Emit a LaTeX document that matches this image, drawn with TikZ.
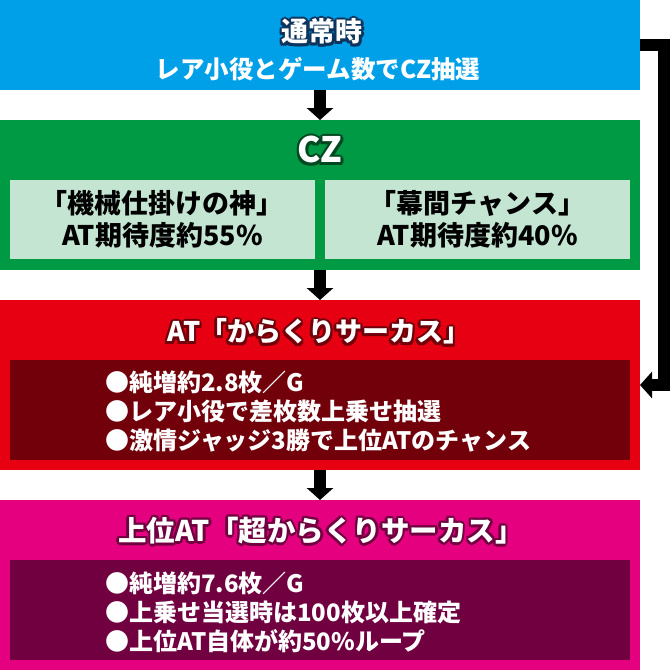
\documentclass[tikz,border=0pt]{standalone}
\usepackage{fontspec}
\setmainfont{Noto Sans CJK JP}
\usetikzlibrary{arrows.meta}
\definecolor{normalblue}{RGB}{0,160,233}
\definecolor{normalnavy}{RGB}{12,52,92}
\definecolor{czgreen}{RGB}{0,153,68}
\definecolor{czdark}{RGB}{0,72,32}
\definecolor{czlight}{RGB}{196,229,210}
\definecolor{atred}{RGB}{230,0,18}
\definecolor{atdark}{RGB}{114,0,10}
\definecolor{supmag}{RGB}{228,0,127}
\definecolor{supdark}{RGB}{112,0,64}
% white title letters with a dark rim
\newcommand\rimcopy[3]{\rlap{\kern#1\raisebox{#2}{#3}}}
\newcommand\rimtext[2]{{\color{#1}%
  \rimcopy{-2.5pt}{-.5pt}{#2}\rimcopy{2.5pt}{-.5pt}{#2}%
  \rimcopy{0pt}{2.3pt}{#2}\rimcopy{0pt}{-3pt}{#2}%
  \rimcopy{-1.8pt}{1.6pt}{#2}\rimcopy{1.8pt}{1.6pt}{#2}%
  \rimcopy{-1.9pt}{-2.4pt}{#2}\rimcopy{1.9pt}{-2.4pt}{#2}}#2}

\begin{document}
\begin{tikzpicture}[x=1pt,y=-1pt,
  panel/.style={inner sep=0,outer sep=0,anchor=north west,minimum width=640pt},
  sub/.style={inner sep=0,outer sep=0,anchor=north west},
  ttl/.style={inner sep=0,text=white,font=\fontsize{27}{30}\selectfont\bfseries},
  pick/.style={inner sep=0,align=center,font=\fontsize{27}{32}\selectfont\bfseries},
  list/.style={inner sep=0,anchor=west,align=left,text=white,font=\fontsize{24}{29}\selectfont\bfseries},
  flow/.style={line width=11.5pt,-{Triangle[width=26pt,length=12pt]}}]
\useasboundingbox(0,0)rectangle(670,670);
% panels
\node[panel,fill=normalblue,minimum height=90pt](normal)at(0,0){};
\node[panel,fill=czgreen,minimum height=150pt](cz)at(0,120){};
\node[panel,fill=atred,minimum height=170pt](at)at(0,300){};
\node[panel,fill=supmag,minimum height=170pt](sup)at(0,500){};
\node[sub,fill=czlight,minimum width=305pt,minimum height=79pt](kami)at(10,180){};
\node[sub,fill=czlight,minimum width=305pt,minimum height=79pt](maku)at(325,180){};
\node[sub,fill=atdark,minimum width=620pt,minimum height=100pt](atlist)at(10,360){};
\node[sub,fill=supdark,minimum width=620pt,minimum height=100pt](suplist)at(10,560){};
% texts
\node[ttl](normalttl)at(322,32){\rimtext{normalnavy}{通常時}};
\node[ttl,font=\fontsize{24.5}{28}\selectfont\bfseries](normaltxt)at(318,69){レア小役とゲーム数でCZ抽選};
\node[ttl,font=\fontsize{35}{38}\selectfont\bfseries](czttl)at(320,150){\rimtext{czdark}{CZ}};
\node[pick](kamitxt)at(kami){「機械仕掛けの神」\\AT期待度約55\%};
\node[pick](makutxt)at(maku){「幕間チャンス」\\AT期待度約40\%};
\node[ttl](atttl)at(319,332){\rimtext{atdark}{AT「からくりサーカス」}};
\node[list](attxt)at(105,412){●純増約2.8枚／G\\●レア小役で差枚数上乗せ抽選\\●激情ジャッジ3勝で上位ATのチャンス};
\node[ttl,font=\fontsize{28.5}{30}\selectfont\bfseries](supttl)at(321,531){\rimtext{supdark}{上位AT「超からくりサーカス」}};
\node[list](suptxt)at(105,612){●純増約7.6枚／G\\●上乗せ当選時は100枚以上確定\\●上位AT自体が約50\%ループ};
% arrows
\draw[flow](normal.south)--(cz.north);
\draw[flow](cz.south)--(at.north);
\draw[flow](at.south)--(sup.north);
\draw[flow](normal.east)--++(24,0)|-(at.east);
\end{tikzpicture}
\end{document}
